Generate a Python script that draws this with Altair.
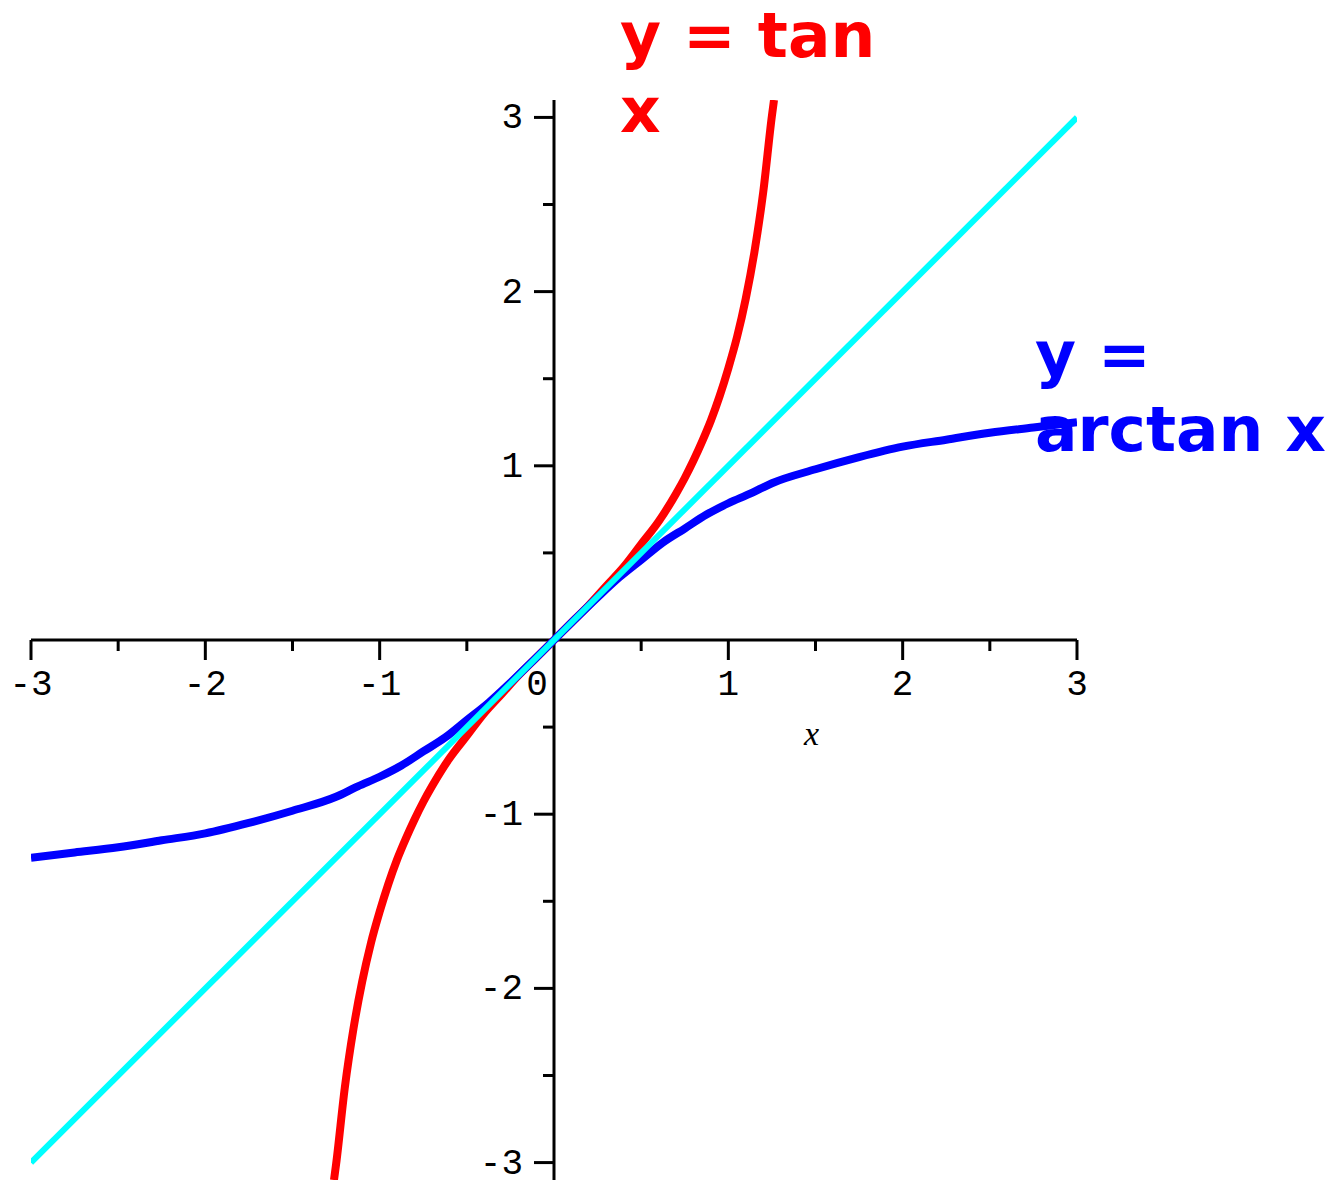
import altair as alt
import pandas as pd

# y = tan x, sampled between the two places where it leaves the view
tan_x = [-1.262, -1.25, -1.2, -1.15, -1.1, -1.05, -1.0, -0.95, -0.9, -0.85, -0.8, -0.75,
         -0.7, -0.6, -0.5, -0.4, -0.3, -0.2, -0.1, 0.0,
         0.1, 0.2, 0.3, 0.4, 0.5, 0.6, 0.7, 0.75, 0.8, 0.85, 0.9, 0.95, 1.0,
         1.05, 1.1, 1.15, 1.2, 1.25, 1.262]
tan_y = [-3.10, -3.01, -2.57, -2.23, -1.96, -1.74, -1.56, -1.40, -1.26, -1.14, -1.03, -0.93,
         -0.84, -0.68, -0.55, -0.42, -0.31, -0.20, -0.10, 0.0,
         0.10, 0.20, 0.31, 0.42, 0.55, 0.68, 0.84, 0.93, 1.03, 1.14, 1.26, 1.40, 1.56,
         1.74, 1.96, 2.23, 2.57, 3.01, 3.10]

# y = arctan x over the whole x range
atan_x = [-3.0, -2.75, -2.5, -2.25, -2.0, -1.75, -1.5, -1.25, -1.125, -1.0, -0.875, -0.75,
          -0.625, -0.5, -0.375, -0.25, -0.125, 0.0,
          0.125, 0.25, 0.375, 0.5, 0.625, 0.75, 0.875, 1.0, 1.125, 1.25, 1.5,
          1.75, 2.0, 2.25, 2.5, 2.75, 3.0]
atan_y = [-1.25, -1.22, -1.19, -1.15, -1.11, -1.05, -0.98, -0.90, -0.84, -0.785, -0.72, -0.64,
          -0.56, -0.46, -0.36, -0.245, -0.124, 0.0,
          0.124, 0.245, 0.36, 0.46, 0.56, 0.64, 0.72, 0.785, 0.84, 0.90, 0.98,
          1.05, 1.11, 1.15, 1.19, 1.22, 1.25]

# y = x
line_x = [-3.0, 3.0]
line_y = [-3.0, 3.0]

# axis ticks and labels
x_major = [-3, -2, -1, 1, 2, 3]
x_major_labels = ["-3", "-2", "-1", "1", "2", "3"]
y_major = [-3, -2, -1, 1, 2, 3]
y_major_labels = ["-3", "-2", "-1", "1", "2", "3"]
minor_ticks = [-2.5, -1.5, -0.5, 0.5, 1.5, 2.5]
x_range = [-3.0, 3.0]
y_range = [-3.1, 3.1]

tan_label = "y = tan\nx"
atan_label = "y =\narctan x"
tan_label_pos = (0.379, 3.345)
atan_label_pos = (2.759, 1.515)

xs = alt.Scale(domain=x_range, nice=False, zero=False)
ys = alt.Scale(domain=y_range, nice=False, zero=False)

tick_font = "Liberation Mono"
tick_size = 36


def X(field):
    return alt.X(field, type="quantitative", scale=xs, axis=None)


def Y(field):
    return alt.Y(field, type="quantitative", scale=ys, axis=None)


def curve(xv, yv, color, width):
    df = pd.DataFrame({"x": xv, "y": yv})
    return alt.Chart(df).mark_line(
        color=color, strokeWidth=width, clip=True, interpolate="monotone"
    ).encode(x=X("x"), y=Y("y"))


axes_df = pd.DataFrame({
    "x": [x_range[0], 0.0], "x2": [x_range[1], 0.0],
    "y": [0.0, y_range[0]], "y2": [0.0, y_range[1]],
})
axes = alt.Chart(axes_df).mark_rule(color="black", strokeWidth=3).encode(
    x=X("x"), x2="x2", y=Y("y"), y2="y2",
)

xmaj_df = pd.DataFrame({"v": x_major, "lab": x_major_labels, "z": 0.0})
ymaj_df = pd.DataFrame({"v": y_major, "lab": y_major_labels, "z": 0.0})
minor_df = pd.DataFrame({"v": minor_ticks, "z": 0.0})

x_major_ticks = alt.Chart(xmaj_df).mark_rule(
    color="black", strokeWidth=3, y2Offset=20
).encode(x=X("v"), y=Y("z"), y2="z")
x_minor_ticks = alt.Chart(minor_df).mark_rule(
    color="black", strokeWidth=3, y2Offset=11
).encode(x=X("v"), y=Y("z"), y2="z")
y_major_ticks = alt.Chart(ymaj_df).mark_rule(
    color="black", strokeWidth=3, x2Offset=-20
).encode(y=Y("v"), x=X("z"), x2="z")
y_minor_ticks = alt.Chart(minor_df).mark_rule(
    color="black", strokeWidth=3, x2Offset=-11
).encode(y=Y("v"), x=X("z"), x2="z")

x_tick_text = alt.Chart(xmaj_df).mark_text(
    font=tick_font, fontSize=tick_size, baseline="middle", align="center", dy=44
).encode(x=X("v"), y=Y("z"), text="lab:N")
y_tick_text = alt.Chart(ymaj_df).mark_text(
    font=tick_font, fontSize=tick_size, baseline="middle", align="right", dx=-31
).encode(y=Y("v"), x=X("z"), text="lab:N")
zero_text = alt.Chart(pd.DataFrame({"v": [0.0], "lab": ["0"]})).mark_text(
    font=tick_font, fontSize=tick_size, baseline="middle", align="center", dx=-17, dy=44
).encode(x=X("v"), y=Y("v"), text="lab:N")

x_title = alt.Chart(pd.DataFrame({"x": [1.477], "y": [-0.546], "t": ["x"]})).mark_text(
    font="Liberation Serif", fontStyle="italic", fontSize=34, baseline="middle"
).encode(x=X("x"), y=Y("y"), text="t:N")


def label(pos, text, color):
    df = pd.DataFrame({"x": [pos[0]], "y": [pos[1]], "t": [text]})
    return alt.Chart(df).mark_text(
        font="DejaVu Sans", fontWeight="bold", fontSize=63, color=color,
        align="left", baseline="alphabetic", lineBreak="\n", lineHeight=75,
    ).encode(x=X("x"), y=Y("y"), text="t:N")


chart = alt.layer(
    axes, x_major_ticks, x_minor_ticks, y_major_ticks, y_minor_ticks,
    x_tick_text, y_tick_text, zero_text, x_title,
    curve(tan_x, tan_y, "#ff0000", 8),
    curve(atan_x, atan_y, "#0000ff", 8),
    curve(line_x, line_y, "#00ffff", 6),
    label(tan_label_pos, tan_label, "#ff0000"),
    label(atan_label_pos, atan_label, "#0000ff"),
).properties(
    width=1046, height=1080,
    autosize=alt.AutoSizeParams(type="none"),
    padding={"left": 31, "top": 100, "right": 267, "bottom": 2},
    background="white",
).configure_view(stroke=None)

chart.save("out.html", embed_options={"renderer": "svg", "actions": False})
